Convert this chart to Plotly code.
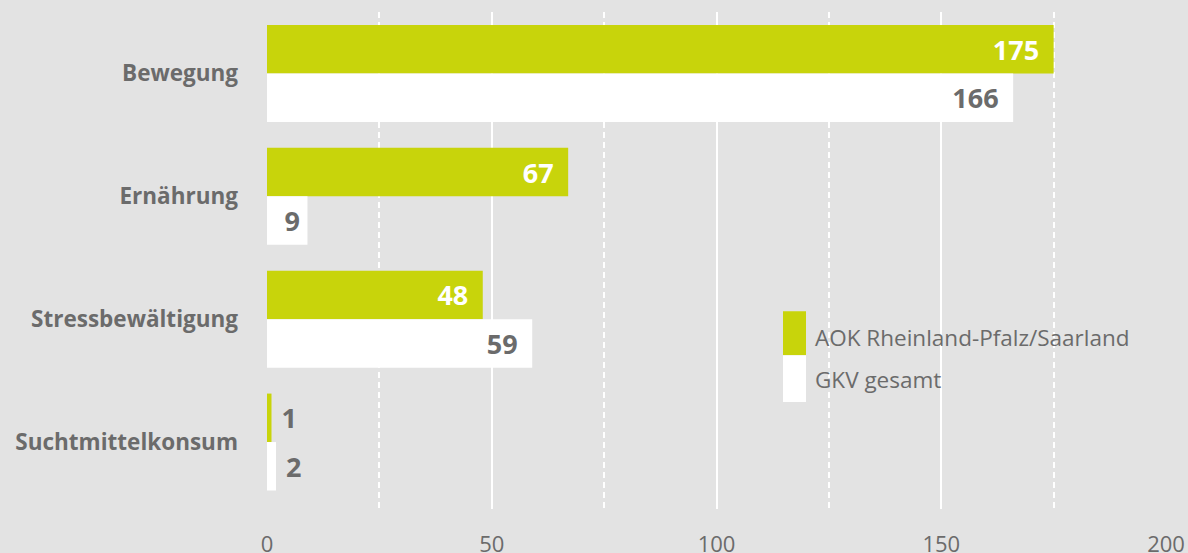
import plotly.graph_objects as go

categories = ["Bewegung", "Ernährung", "Stressbewältigung", "Suchtmittelkonsum"]
aok_values = [175, 67, 48, 1]
gkv_values = [166, 9, 59, 2]
series_names = ["AOK Rheinland-Pfalz/Saarland", "GKV gesamt"]
x_ticks = [0, 50, 100, 150, 200]

GREEN = "#c8d40b"
WHITE = "#ffffff"
BG = "#e3e3e3"
GRAY = "#6b6b6b"
FONT = "Open Sans"
NB = "\u00a0"
THIN = "\u2009"

W, H = 1188, 553
ML, MR, MT, MB = 267, 22, 11.5, 44
plot_h = H - MT - MB
plot_w = W - ML - MR


def pos(vals):
    return ["inside" if v > 5 else "outside" for v in vals]


def labels(vals):
    out = []
    for v in vals:
        if v >= 20:
            out.append(str(v) + NB + THIN)
        elif v > 5:
            out.append(str(v) + THIN)
        else:
            out.append(NB + str(v))
    return out


fig = go.Figure()
fig.add_trace(go.Bar(
    y=categories, x=aok_values, orientation="h", name=series_names[0],
    marker=dict(color=GREEN, line=dict(width=0)),
    text=labels(aok_values), textposition=pos(aok_values),
    insidetextanchor="end", constraintext="none",
    insidetextfont=dict(color=WHITE, size=27, family=FONT, weight="bold"),
    outsidetextfont=dict(color=GRAY, size=27, family=FONT, weight="bold"),
    hoverinfo="skip",
))
fig.add_trace(go.Bar(
    y=categories, x=gkv_values, orientation="h", name=series_names[1],
    marker=dict(color=WHITE, line=dict(width=0)),
    text=labels(gkv_values), textposition=pos(gkv_values),
    insidetextanchor="end", constraintext="none",
    insidetextfont=dict(color=GRAY, size=27, family=FONT, weight="bold"),
    outsidetextfont=dict(color=GRAY, size=27, family=FONT, weight="bold"),
    hoverinfo="skip",
))


def py2paper(py):
    return (H - MB - py) / plot_h


def px2paper(px):
    return (px - ML) / plot_w


# legend background (hides gridlines behind legend)
fig.add_shape(type="rect", xref="paper", yref="paper",
              x0=px2paper(760), x1=px2paper(1145),
              y0=py2paper(415), y1=py2paper(294),
              fillcolor=BG, line=dict(width=0), layer="between")
# legend swatches
fig.add_shape(type="rect", xref="paper", yref="paper",
              x0=px2paper(783), x1=px2paper(806),
              y0=py2paper(355), y1=py2paper(311),
              fillcolor=GREEN, line=dict(width=0), layer="between")
fig.add_shape(type="rect", xref="paper", yref="paper",
              x0=px2paper(783), x1=px2paper(806),
              y0=py2paper(402), y1=py2paper(355),
              fillcolor=WHITE, line=dict(width=0), layer="between")
for name, cy in zip(series_names, [337, 379]):
    fig.add_annotation(xref="paper", yref="paper",
                       x=px2paper(813), y=py2paper(cy),
                       text=name, showarrow=False, xanchor="left", yanchor="middle",
                       font=dict(size=22.5, color=GRAY, family=FONT))

fig.update_layout(
    width=W, height=H,
    margin=dict(l=ML, r=MR, t=MT, b=MB, pad=0),
    paper_bgcolor=BG, plot_bgcolor=BG,
    barmode="group", bargap=0.211, bargroupgap=0,
    showlegend=False,
    font=dict(family=FONT, color=GRAY),
    xaxis=dict(
        range=[0, 200], tickvals=x_ticks, ticktext=[str(t) for t in x_ticks],
        showgrid=True, gridcolor=WHITE, gridwidth=2,
        zeroline=False, showline=False, ticks="",
        tickfont=dict(size=22, color=GRAY, family=FONT),
        ticklabelstandoff=20, automargin=False,
        minor=dict(dtick=25, tick0=0, showgrid=True, gridcolor=WHITE,
                   gridwidth=1.5, griddash="6px,4px"),
        fixedrange=True,
    ),
    yaxis=dict(
        range=[3.545, -0.5], showgrid=False, zeroline=False, showline=False,
        ticks="", tickfont=dict(size=22.5, color=GRAY, family=FONT, weight="bold"),
        ticklabelstandoff=28, automargin=False, fixedrange=True,
    ),
)

fig.write_html("out.html", config={"displayModeBar": False})
